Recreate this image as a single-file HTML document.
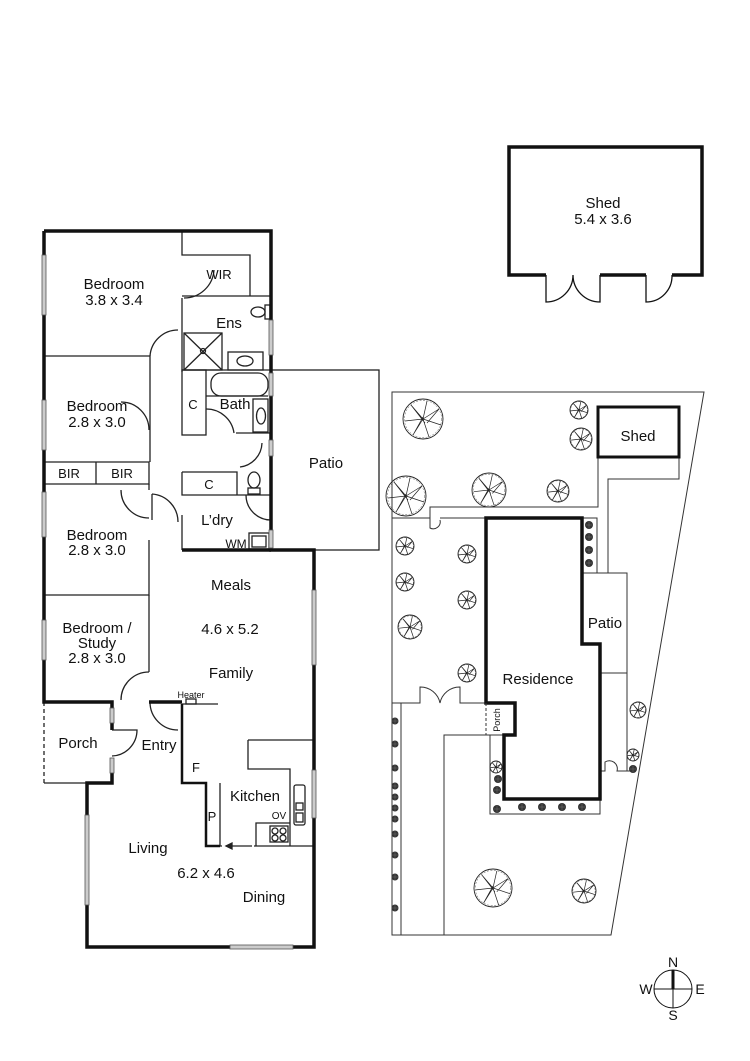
<!DOCTYPE html>
<html><head><meta charset="utf-8"><style>
html,body{margin:0;padding:0;background:#fff;}
svg{display:block;}
text{font-family:"Liberation Sans",Arial,sans-serif;fill:#111;}
</style></head><body>
<svg width="750" height="1061" viewBox="0 0 750 1061" xmlns="http://www.w3.org/2000/svg">
<defs>
<g id="tree">
<circle r="1" fill="none" stroke="#222" stroke-width="0.9" vector-effect="non-scaling-stroke"/>
<circle r="0.93" fill="none" stroke="#555" stroke-width="0.5" stroke-dasharray="2 1.5" vector-effect="non-scaling-stroke"/>
<path d="M0 0L0.8 -0.5M0 0L0.2 -0.9M0 0L-0.6 -0.7M0 0L-0.9 0.1M0 0L-0.5 0.8M0 0L0.3 0.9M0 0L0.9 0.3M0.8 -0.5L0.2 0.2M-0.6 -0.7L0.1 0.2M-0.5 0.8L0 -0.1" stroke="#222" stroke-width="0.7" fill="none" vector-effect="non-scaling-stroke"/>
</g>
<g id="shrub"><circle r="1" fill="#333"/><path d="M-0.8 0H0.8M0 -0.8V0.8" stroke="#777" stroke-width="0.12"/></g>
</defs>

<g fill="none" stroke="#222" stroke-width="1.3">
<rect x="271" y="370" width="108" height="180"/>
<path d="M182 231V255H250V296"/>
<path d="M182 296H271"/>
<path d="M182 298V372"/>
<rect x="184" y="333" width="38" height="37"/>
<path d="M184 333L222 370M222 333L184 370"/>
<circle cx="203" cy="351" r="2.5"/>
<rect x="228" y="352" width="35" height="18"/>
<ellipse cx="245" cy="361" rx="8" ry="5"/>
<ellipse cx="258" cy="312" rx="7" ry="5"/>
<rect x="265" y="305" width="5" height="14"/>
<path d="M182 370H271"/>
<rect x="182" y="370" width="24" height="65"/>
<rect x="211" y="373" width="57" height="23" rx="10"/>
<path d="M206 396H268"/>
<rect x="253" y="399" width="15" height="33"/>
<ellipse cx="261" cy="416" rx="4.5" ry="8"/>
<path d="M236 433H271"/>
<path d="M206 409A28 28 0 0 1 234 433"/>
<path d="M262 443A25 25 0 0 1 240 467"/>
<path d="M182 472H237V495M182 472V495H271"/>
<ellipse cx="254" cy="480" rx="6" ry="8"/>
<rect x="248" y="488" width="12" height="6"/>
<path d="M182 515V550"/>
<path d="M246 495A25 25 0 0 0 271 520"/>
<rect x="249" y="533" width="20" height="16"/>
<rect x="252" y="536" width="14" height="11"/>
<path d="M44 356H150V462"/>
<path d="M150 356A28 28 0 0 1 178 330"/>
<path d="M44 462H149V484H44M96 462V484"/>
<path d="M149 430A28 28 0 0 0 121 402"/>
<path d="M149 484V490M121 490A28 28 0 0 0 149 518"/>
<path d="M149 540V595H44"/>
<path d="M149 595V672"/>
<path d="M149 672A28 28 0 0 0 121 700"/>
<path d="M152 494V520M152 494A28 28 0 0 1 178 522"/>
<path d="M184 298A30 30 0 0 0 214 270"/>
<path d="M150 702A28 28 0 0 0 178 730"/>
<path d="M112 730H137A26 26 0 0 1 112 756"/>
<path d="M44 702V783" stroke-dasharray="4 3"/>
<path d="M44 783H87"/>
<path d="M182 704H218"/>
<rect x="186" y="699" width="10" height="5"/>
<path d="M220 783V846H222"/>
<path d="M248 740H314M248 740V769H290V846"/>
<rect x="294" y="785" width="11" height="40" rx="2"/>
<rect x="296" y="803" width="7" height="7"/><rect x="296" y="813" width="7" height="9"/>
<path d="M256 846V823H290"/>
<rect x="270" y="826" width="18" height="16"/>
<circle cx="275" cy="831" r="3"/><circle cx="283" cy="831" r="3"/><circle cx="275" cy="838" r="3"/><circle cx="283" cy="838" r="3"/>
<path d="M226 846H252"/>
<path d="M226 846L232 843V849Z" fill="#222"/>
<path d="M254 846H314"/>
</g>

<g fill="none" stroke="#111" stroke-width="3.5">
<path d="M44 231H271V550H314V947H87V783H112V760"/>
<path d="M112 730V702H44V231"/>
<path d="M182 550H271"/>
<path d="M149 702H182"/>
<path d="M182 704V783H206V846H220" stroke-width="2.5"/>
</g>

<g fill="#ccc" stroke="#555" stroke-width="0.8">
<rect x="42" y="255" width="4" height="60"/>
<rect x="42" y="400" width="4" height="50"/>
<rect x="42" y="492" width="4" height="45"/>
<rect x="42" y="620" width="4" height="40"/>
<rect x="269" y="320" width="4" height="35"/>
<rect x="269" y="373" width="4" height="23"/>
<rect x="269" y="440" width="4" height="16"/>
<rect x="269" y="530" width="4" height="18"/>
<rect x="312" y="590" width="4" height="75"/>
<rect x="312" y="770" width="4" height="48"/>
<rect x="110" y="708" width="4" height="15"/>
<rect x="110" y="758" width="4" height="15"/>
<rect x="85" y="815" width="4" height="90"/>
<rect x="230" y="945" width="63" height="4"/>
</g>

<g font-size="15" text-anchor="middle">
<text x="114" y="289">Bedroom</text><text x="114" y="305">3.8 x 3.4</text>
<text x="219" y="279" font-size="13">WIR</text>
<text x="229" y="328">Ens</text>
<text x="97" y="411">Bedroom</text><text x="97" y="427">2.8 x 3.0</text>
<text x="193" y="409" font-size="13">C</text>
<text x="235" y="409">Bath</text>
<text x="209" y="489" font-size="13">C</text>
<text x="69" y="478" font-size="13">BIR</text>
<text x="122" y="478" font-size="13">BIR</text>
<text x="326" y="468">Patio</text>
<text x="217" y="525">L’dry</text>
<text x="236" y="548" font-size="12">WM</text>
<text x="97" y="540">Bedroom</text><text x="97" y="555">2.8 x 3.0</text>
<text x="231" y="590">Meals</text>
<text x="230" y="634">4.6 x 5.2</text>
<text x="231" y="678">Family</text>
<text x="97" y="633">Bedroom /</text><text x="97" y="648">Study</text><text x="97" y="663">2.8 x 3.0</text>
<text x="191" y="698" font-size="9">Heater</text>
<text x="78" y="748">Porch</text>
<text x="159" y="750">Entry</text>
<text x="196" y="772" font-size="13">F</text>
<text x="255" y="801">Kitchen</text>
<text x="212" y="821" font-size="13">P</text>
<text x="279" y="819" font-size="10">OV</text>
<text x="148" y="853">Living</text>
<text x="206" y="878">6.2 x 4.6</text>
<text x="264" y="902">Dining</text>
</g>

<g fill="none" stroke="#111">
<path d="M546 275H509V147H702V275H672M646 275H600" stroke-width="3.5"/>
<path d="M546 275V302A27 27 0 0 0 573 275A27 27 0 0 0 600 302V275M646 275V302A26 26 0 0 0 672 275" stroke-width="1.3"/>
</g>
<text x="603" y="208" font-size="15" text-anchor="middle">Shed</text>
<text x="603" y="224" font-size="15" text-anchor="middle">5.4 x 3.6</text>

<g fill="none" stroke="#333" stroke-width="1">
<path d="M392 392H704L611 935H392Z"/>
<path d="M430 518V507H598V457M608 573V479H679V457"/>
<path d="M392 518H430M440 518H486"/>
<path d="M430 518V528A7 7 0 0 0 440 520"/>
<path d="M392 703H420V687A20 20 0 0 1 440 703A20 20 0 0 1 460 687V703H486"/>
<path d="M401 703V935M444 935V735H504M490 735V814H600V799"/>
<path d="M582 518H597V573M582 573H627V771M600 673H627"/>
<path d="M600 771H605V762A8 8 0 0 1 617 771H635"/>
</g>
<rect x="598" y="407" width="81" height="50" fill="#fff" stroke="#111" stroke-width="3"/>
<path d="M486 518H582V644H600V799H504V735H515V703H486Z" fill="none" stroke="#111" stroke-width="3.5"/>
<path d="M486 703V735" stroke="#333" stroke-dasharray="3 2" fill="none"/>
<text x="638" y="441" font-size="15" text-anchor="middle">Shed</text>
<text x="605" y="628" font-size="15" text-anchor="middle">Patio</text>
<text x="538" y="684" font-size="15" text-anchor="middle">Residence</text>
<text x="500" y="720" font-size="9" text-anchor="middle" transform="rotate(-90 500 720)">Porch</text>

<use href="#tree" transform="translate(423,419) scale(20)"/>
<use href="#tree" transform="translate(406,496) scale(20)"/>
<use href="#tree" transform="translate(489,490) scale(17)"/>
<use href="#tree" transform="translate(558,491) scale(11)"/>
<use href="#tree" transform="translate(579,410) scale(9)"/>
<use href="#tree" transform="translate(581,439) scale(11)"/>
<use href="#tree" transform="translate(405,546) scale(9)"/>
<use href="#tree" transform="translate(467,554) scale(9)"/>
<use href="#tree" transform="translate(405,582) scale(9)"/>
<use href="#tree" transform="translate(467,600) scale(9)"/>
<use href="#tree" transform="translate(410,627) scale(12)"/>
<use href="#tree" transform="translate(467,673) scale(9)"/>
<use href="#tree" transform="translate(496,767) scale(6)"/>
<use href="#tree" transform="translate(638,710) scale(8)"/>
<use href="#tree" transform="translate(633,755) scale(6)"/>
<use href="#tree" transform="translate(493,888) scale(19)"/>
<use href="#tree" transform="translate(584,891) scale(12)"/>
<g>
<use href="#shrub" transform="translate(589,525) scale(4)"/>
<use href="#shrub" transform="translate(589,537) scale(4)"/>
<use href="#shrub" transform="translate(589,550) scale(4)"/>
<use href="#shrub" transform="translate(589,563) scale(4)"/>
<use href="#shrub" transform="translate(497,790) scale(4)"/>
<use href="#shrub" transform="translate(497,809) scale(4)"/>
<use href="#shrub" transform="translate(498,779) scale(4)"/>
<use href="#shrub" transform="translate(522,807) scale(4)"/>
<use href="#shrub" transform="translate(542,807) scale(4)"/>
<use href="#shrub" transform="translate(562,807) scale(4)"/>
<use href="#shrub" transform="translate(582,807) scale(4)"/>
<use href="#shrub" transform="translate(395,721) scale(3.5)"/>
<use href="#shrub" transform="translate(395,744) scale(3.5)"/>
<use href="#shrub" transform="translate(395,768) scale(3.5)"/>
<use href="#shrub" transform="translate(395,786) scale(3.5)"/>
<use href="#shrub" transform="translate(395,797) scale(3.5)"/>
<use href="#shrub" transform="translate(395,808) scale(3.5)"/>
<use href="#shrub" transform="translate(395,819) scale(3.5)"/>
<use href="#shrub" transform="translate(395,834) scale(3.5)"/>
<use href="#shrub" transform="translate(395,855) scale(3.5)"/>
<use href="#shrub" transform="translate(395,877) scale(3.5)"/>
<use href="#shrub" transform="translate(395,908) scale(3.5)"/>
<use href="#shrub" transform="translate(633,769) scale(4)"/>
</g>

<g fill="none" stroke="#111" stroke-width="1">
<circle cx="673" cy="989" r="19"/>
<path d="M654 989H692M673 970V1008"/>
<path d="M673 970V989" stroke-width="3"/>
</g>
<g font-size="14" text-anchor="middle">
<text x="673" y="967">N</text><text x="673" y="1020">S</text>
<text x="646" y="994">W</text><text x="700" y="994">E</text>
</g>
</svg>
</body></html>
